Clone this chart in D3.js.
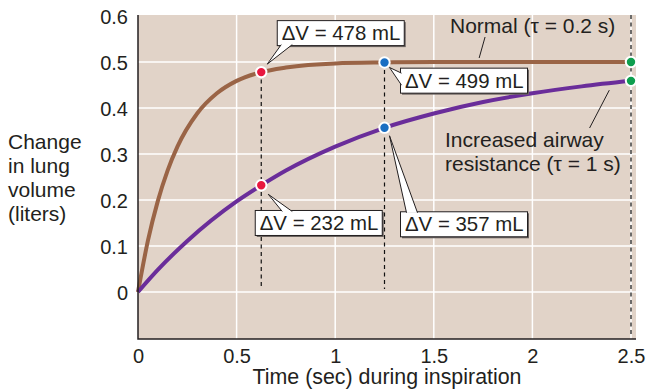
<!DOCTYPE html>
<html lang="en">
<head>
<meta charset="UTF-8"/>
<title>Change in lung volume during inspiration</title>
<script src="https://cdn.jsdelivr.net/npm/d3@7"></script>
<style>
  body { margin: 0; background: #fff; }
  svg text { font-family: "Liberation Sans", Arial, Helvetica, sans-serif; font-size: 21px; fill: #231f20; }
  svg .tick text, svg .callout text { font-size: 20px; }
</style>
</head>
<body>
<div id="chart"></div>
<script>
// curves: time (s) and change in volume (L)
var normalTime = [0, 0.05, 0.1, 0.15, 0.2, 0.3, 0.4, 0.5, 0.625, 0.75, 1, 1.25, 1.5, 2, 2.5];
var normalVol  = [0, 0.111, 0.197, 0.264, 0.316, 0.388, 0.432, 0.459, 0.478, 0.488, 0.497, 0.499, 0.5, 0.5, 0.5];
var resistTime = [0, 0.1, 0.25, 0.5, 0.625, 0.75, 1, 1.25, 1.5, 1.75, 2, 2.25, 2.5];
var resistVol  = [0, 0.048, 0.111, 0.197, 0.232, 0.264, 0.316, 0.357, 0.388, 0.413, 0.432, 0.447, 0.459];

// marked points on the curves
var markTime  = [0.625, 1.25, 2.5, 0.625, 1.25, 2.5];
var markVol   = [0.478, 0.499, 0.5, 0.232, 0.357, 0.459];
var markColor = ['#e8173f', '#1a6ec2', '#0e9e4e', '#e8173f', '#1a6ec2', '#0e9e4e'];
var calloutMl = [478, 499, null, 232, 357, null];

var xTicks = [0, 0.5, 1, 1.5, 2, 2.5];
var yTicks = [0, 0.1, 0.2, 0.3, 0.4, 0.5, 0.6];
var yTitle = ['Change', 'in lung', 'volume', '(liters)'];
var xTitle = 'Time (sec) during inspiration';
var normalLabel = 'Normal (\u03c4 = 0.2 s)';
var resistLabel = ['Increased airway', 'resistance (\u03c4 = 1 s)'];

var W = 651, H = 391;
var plot = {left: 138, right: 636, top: 15, bottom: 339};

var x = d3.scaleLinear().domain([0, 2.5]).range([138, 631]);
var y = d3.scaleLinear().domain([-0.1, 0.6]).range([338, 16]);

var svg = d3.select('#chart').append('svg')
  .attr('width', W)
  .attr('height', H);

// plot background
svg.append('rect')
  .attr('x', plot.left).attr('y', plot.top)
  .attr('width', plot.right - plot.left).attr('height', plot.bottom - plot.top)
  .attr('fill', '#e1d3c8');

// grid
svg.append('g').selectAll('line').data(yTicks.slice(0, -1)).enter().append('line')
  .attr('x1', plot.left).attr('x2', plot.right)
  .attr('y1', function(d){ return y(d); }).attr('y2', function(d){ return y(d); })
  .attr('stroke', '#fff').attr('stroke-width', 1.5);
svg.append('g').selectAll('line').data(xTicks.slice(1)).enter().append('line')
  .attr('x1', function(d){ return x(d); }).attr('x2', function(d){ return x(d); })
  .attr('y1', plot.top).attr('y2', plot.bottom)
  .attr('stroke', '#fff').attr('stroke-width', 1.5);

// dashed drop lines
svg.append('g').selectAll('line').data(markTime.slice(0, 3)).enter().append('line')
  .attr('x1', function(d){ return x(d); }).attr('x2', function(d){ return x(d); })
  .attr('y1', function(d, i){ return i == 2 ? plot.top : y(markVol[i]); })
  .attr('y2', function(d, i){ return i == 2 ? plot.bottom - 2 : y(0) - 3; })
  .attr('stroke', '#111').attr('stroke-width', 1.2)
  .attr('stroke-dasharray', '4,3.5');

// curves
var line = d3.line()
  .x(function(d){ return x(d[0]); })
  .y(function(d){ return y(d[1]); })
  .curve(d3.curveMonotoneX);

svg.append('path')
  .attr('d', line(d3.zip(normalTime, normalVol)))
  .attr('fill', 'none').attr('stroke', '#9a6446').attr('stroke-width', 4);
svg.append('path')
  .attr('d', line(d3.zip(resistTime, resistVol)))
  .attr('fill', 'none').attr('stroke', '#6a2d9a').attr('stroke-width', 4);

// axes
var yAxis = svg.append('g')
  .attr('transform', 'translate(' + plot.left + ',0)')
  .call(d3.axisLeft(y).tickValues(yTicks).tickSize(0).tickPadding(10)
    .tickFormat(function(d){ return d === 0 ? '0' : d3.format('.1f')(d); }));
yAxis.select('.domain').remove();
yAxis.selectAll('text').attr('dy', '0.38em');

var xAxis = svg.append('g')
  .attr('transform', 'translate(0,' + plot.bottom + ')')
  .call(d3.axisBottom(x).tickValues(xTicks).tickSize(0).tickPadding(10)
    .tickFormat(function(d){ return d === 0 ? '0' : d3.format('.1~f')(d); }));
xAxis.select('.domain').remove();
svg.selectAll('.tick text').attr('font-size', null).attr('font-family', null).attr('fill', '#231f20');

svg.append('path')
  .attr('d', 'M' + plot.left + ',' + plot.top + 'V' + plot.bottom + 'H' + plot.right)
  .attr('fill', 'none').attr('stroke', '#231f20').attr('stroke-width', 1.5);

// axis titles
svg.append('text')
  .selectAll('tspan').data(yTitle).enter().append('tspan')
  .attr('x', 8).attr('y', function(d, i){ return 149 + i * 24; })
  .text(function(d){ return d; });
svg.append('text')
  .attr('x', 387).attr('y', 384)
  .attr('text-anchor', 'middle')
  .style('font-size', '21.4px')
  .text(xTitle);

// curve labels with leader lines
svg.append('line')
  .attr('x1', x(1.76)).attr('y1', 37)
  .attr('x2', x(1.73)).attr('y2', y(0.5) - 4)
  .attr('stroke', '#231f20').attr('stroke-width', 1);
svg.append('text').attr('x', 450).attr('y', 33).text(normalLabel);

svg.append('line')
  .attr('x1', x(2.29)).attr('y1', 128)
  .attr('x2', x(2.39)).attr('y2', y(0.454) + 7)
  .attr('stroke', '#231f20').attr('stroke-width', 1);
svg.append('text')
  .selectAll('tspan').data(resistLabel).enter().append('tspan')
  .attr('x', 445).attr('y', function(d, i){ return 147 + i * 23.5; })
  .text(function(d){ return d; });

// points
svg.append('g').selectAll('circle').data(markTime).enter().append('circle')
  .attr('cx', function(d){ return x(d); })
  .attr('cy', function(d, i){ return y(markVol[i]); })
  .attr('r', 5.2)
  .attr('fill', function(d, i){ return markColor[i]; })
  .attr('stroke', '#fff').attr('stroke-width', 2);

// callout boxes: offsets from the point, tail base and tip
var boxW = 127, boxH = 25;
var calloutLayout = [
  {dx: 16,  dy: -51.5, side: 'bottom', b0: 4,  b1: 15, tip: [6, -8]},
  {dx: 16,  dy: 5.7,   side: 'left',   b0: 5,  b1: 17, tip: [5, 5]},
  null,
  {dx: -6,  dy: 25.2,  side: 'top',    b0: 27, b1: 37, tip: [7, 9]},
  {dx: 16,  dy: 84,    side: 'top',    b0: 6,  b1: 17, tip: [5, 8]},
  null
];

calloutMl.forEach(function(ml, i){
  if (ml == null) return;
  var L = calloutLayout[i];
  var px = x(markTime[i]), py = y(markVol[i]);
  var bx = px + L.dx, by = py + L.dy;
  var g = svg.append('g').attr('class', 'callout');
  g.append('rect')
    .attr('x', bx + 1.5).attr('y', by + 1.5).attr('width', boxW).attr('height', boxH)
    .attr('fill', '#6b6461');
  g.append('rect')
    .attr('x', bx).attr('y', by).attr('width', boxW).attr('height', boxH)
    .attr('fill', '#fff').attr('stroke', '#231f20').attr('stroke-width', 1);
  var p0, p1, tip = [px + L.tip[0], py + L.tip[1]];
  if (L.side == 'bottom') { p0 = [bx + L.b0, by + boxH - 1]; p1 = [bx + L.b1, by + boxH - 1]; }
  else if (L.side == 'top') { p0 = [bx + L.b0, by + 1]; p1 = [bx + L.b1, by + 1]; }
  else { p0 = [bx + 1, by + L.b0]; p1 = [bx + 1, by + L.b1]; }
  g.append('path')
    .attr('d', 'M' + p0 + 'L' + tip + 'L' + p1)
    .attr('fill', '#fff').attr('stroke', '#231f20').attr('stroke-width', 1);
  g.append('text')
    .attr('x', bx + 4.5).attr('y', by + 19.5)
    .style('font-size', '20.4px')
    .text('\u0394V = ' + ml + ' mL');
});
</script>
</body>
</html>
